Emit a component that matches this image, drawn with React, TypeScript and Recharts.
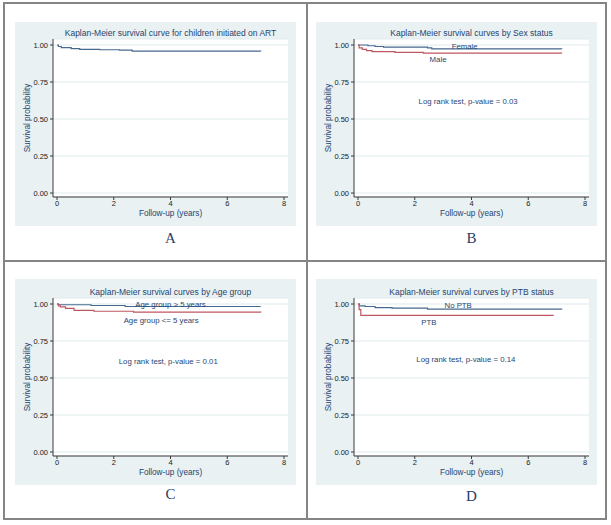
import React from "react";
import {
  LineChart,
  Line,
  XAxis,
  YAxis,
  CartesianGrid,
  ReferenceDot,
} from "recharts";

// follow-up ticks and survival ticks
const xTicks = [0, 2, 4, 6, 8];
const yTicks = [0, 0.25, 0.5, 0.75, 1];

// A: all children
const allTime = [0, 0.05, 0.15, 0.5, 0.8, 1.5, 2.2, 2.65, 7.18];
const allSurv = [1, 0.99, 0.982, 0.975, 0.971, 0.968, 0.966, 0.959, 0.958];

// B: by sex
const femaleTime = [0, 0.35, 0.6, 0.9, 2.45, 2.6, 7.18];
const femaleSurv = [1, 0.995, 0.99, 0.985, 0.98, 0.974, 0.973];
const maleTime = [0, 0.04, 0.15, 0.3, 0.5, 1.3, 2.3, 7.18];
const maleSurv = [1, 0.98, 0.97, 0.962, 0.955, 0.95, 0.945, 0.944];

// C: by age group
const olderTime = [0, 0.05, 1.2, 2.4, 7.18];
const olderSurv = [1, 0.995, 0.99, 0.983, 0.983];
const youngerTime = [0, 0.05, 0.12, 0.3, 0.6, 1.3, 2.7, 7.18];
const youngerSurv = [1, 0.988, 0.98, 0.97, 0.957, 0.951, 0.945, 0.943];

// D: by PTB status
const noPtbTime = [0, 0.05, 0.25, 0.6, 1.2, 2.45, 7.18];
const noPtbSurv = [1, 0.987, 0.983, 0.975, 0.972, 0.965, 0.962];
const ptbTime = [0, 0.04, 0.1, 6.9];
const ptbSurv = [1, 0.962, 0.923, 0.923];

const BLUE = "#47698f";
const RED = "#bd5760";
const NAVY = "#1f4570";
const FONT = '"Liberation Sans", Arial, sans-serif';

const toRows = (t: number[], s: number[]) => t.map((v, i) => ({ t: v, s: s[i] }));

type Note = { x: number; y: number; text: string };
type Series = { name: string; color: string; rows: { t: number; s: number }[] };

const panels = [
  {
    key: "A",
    title: "Kaplan-Meier survival curve for children initiated on ART",
    left: 15,
    top: 22,
    height: 204,
    marginTop: 17,
    letterY: 238,
    series: [{ name: "All", color: BLUE, rows: toRows(allTime, allSurv) }],
    notes: [] as Note[],
  },
  {
    key: "B",
    title: "Kaplan-Meier survival curves by Sex status",
    left: 316,
    top: 22,
    height: 204,
    marginTop: 17,
    letterY: 238,
    series: [
      { name: "Female", color: BLUE, rows: toRows(femaleTime, femaleSurv) },
      { name: "Male", color: RED, rows: toRows(maleTime, maleSurv) },
    ],
    notes: [
      { x: 3.76, y: 0.993, text: "Female" },
      { x: 2.82, y: 0.903, text: "Male" },
      { x: 3.88, y: 0.623, text: "Log rank test, p-value = 0.03" },
    ],
  },
  {
    key: "C",
    title: "Kaplan-Meier survival curves by Age group",
    left: 15,
    top: 279,
    height: 206,
    marginTop: 19,
    letterY: 494,
    series: [
      { name: "Age group > 5 years", color: BLUE, rows: toRows(olderTime, olderSurv) },
      { name: "Age group <= 5 years", color: RED, rows: toRows(youngerTime, youngerSurv) },
    ],
    notes: [
      { x: 4.0, y: 1.0, text: "Age group > 5 years" },
      { x: 3.67, y: 0.89, text: "Age group <= 5 years" },
      { x: 3.92, y: 0.615, text: "Log rank test, p-value = 0.01" },
    ],
  },
  {
    key: "D",
    title: "Kaplan-Meier survival curves by PTB status",
    left: 316,
    top: 279,
    height: 206,
    marginTop: 19,
    letterY: 496,
    series: [
      { name: "No PTB", color: BLUE, rows: toRows(noPtbTime, noPtbSurv) },
      { name: "PTB", color: RED, rows: toRows(ptbTime, ptbSurv) },
    ],
    notes: [
      { x: 3.53, y: 0.993, text: "No PTB" },
      { x: 2.5, y: 0.877, text: "PTB" },
      { x: 3.8, y: 0.626, text: "Log rank test, p-value = 0.14" },
    ],
  },
];

const PANEL_W = 281;
const AXIS_W = 38;
const RIGHT = 8;

const Panel = ({ p }: { p: (typeof panels)[number] }) => {
  const plotW = PANEL_W - AXIS_W - RIGHT;
  return (
    <div
      style={{
        position: "absolute",
        left: p.left,
        top: p.top,
        width: PANEL_W,
        height: p.height,
        background: "#e9f1f3",
      }}
    >
      <div
        style={{
          position: "absolute",
          left: AXIS_W,
          width: plotW,
          top: p.marginTop - 11,
          textAlign: "center",
          fontFamily: FONT,
          fontSize: 8.5,
          lineHeight: "10px",
          color: NAVY,
          whiteSpace: "nowrap",
        }}
      >
        {p.title}
      </div>
      <LineChart
        width={PANEL_W}
        height={p.height}
        margin={{ top: p.marginTop, right: RIGHT, left: 0, bottom: 0 }}
        style={{ fontFamily: FONT }}
      >
        <CartesianGrid vertical={false} stroke="#dfe9ec" fill="#ffffff" />
        <XAxis
          type="number"
          dataKey="t"
          domain={[0, 8]}
          ticks={xTicks}
          height={29}
          padding={{ left: 4, right: 4 }}
          tickSize={3}
          tickMargin={1}
          stroke="#3a3a3a"
          tick={{ fill: "#222", fontSize: 7.5 }}
          label={{
            value: "Follow-up (years)",
            position: "insideBottom",
            offset: 10,
            fill: NAVY,
            fontSize: 8.2,
          }}
        />
        <YAxis
          type="number"
          dataKey="s"
          domain={[0, 1]}
          ticks={yTicks}
          width={AXIS_W}
          padding={{ top: 6, bottom: 4 }}
          tickSize={3}
          tickMargin={2}
          stroke="#3a3a3a"
          tick={{ fill: "#222", fontSize: 7.5 }}
          tickFormatter={(v: number) => v.toFixed(2)}
          label={{
            value: "Survival probability",
            angle: -90,
            position: "insideLeft",
            offset: 12,
            fill: NAVY,
            fontSize: 8.2,
            style: { textAnchor: "middle" },
          }}
        />
        {p.series.map((s: Series) => (
          <Line
            key={s.name}
            data={s.rows}
            dataKey="s"
            type="stepAfter"
            stroke={s.color}
            strokeWidth={1.2}
            dot={false}
            activeDot={false}
            isAnimationActive={false}
          />
        ))}
        {p.notes.map((n: Note) => (
          <ReferenceDot
            key={n.text}
            x={n.x}
            y={n.y}
            r={0}
            fill="none"
            stroke="none"
            ifOverflow="visible"
            label={{ value: n.text, position: "center", fill: NAVY, fontSize: 7.8 }}
          />
        ))}
      </LineChart>
    </div>
  );
};

const line = (left: number, top: number, width: number, height: number) => (
  <div
    style={{ position: "absolute", left, top, width, height, background: "#858585" }}
  />
);

export default function App() {
  return (
    <div
      style={{
        position: "absolute",
        left: 0,
        top: 0,
        width: 611,
        height: 525,
        background: "#ffffff",
        overflow: "hidden",
      }}
    >
      {line(3, 2, 604, 2)}
      {line(3, 518, 604, 2)}
      {line(3, 2, 2, 518)}
      {line(605, 2, 2, 518)}
      {line(306, 2, 2, 518)}
      {line(3, 260, 604, 2)}
      {panels.map((p) => (
        <React.Fragment key={p.key}>
          <Panel p={p} />
          <div
            style={{
              position: "absolute",
              left: p.left + AXIS_W,
              width: PANEL_W - AXIS_W - RIGHT,
              top: p.letterY - 9,
              textAlign: "center",
              fontFamily: '"Liberation Serif", "Times New Roman", serif',
              fontSize: 15,
              lineHeight: "18px",
              color: "#2a3c68",
            }}
          >
            {p.key}
          </div>
        </React.Fragment>
      ))}
    </div>
  );
}
